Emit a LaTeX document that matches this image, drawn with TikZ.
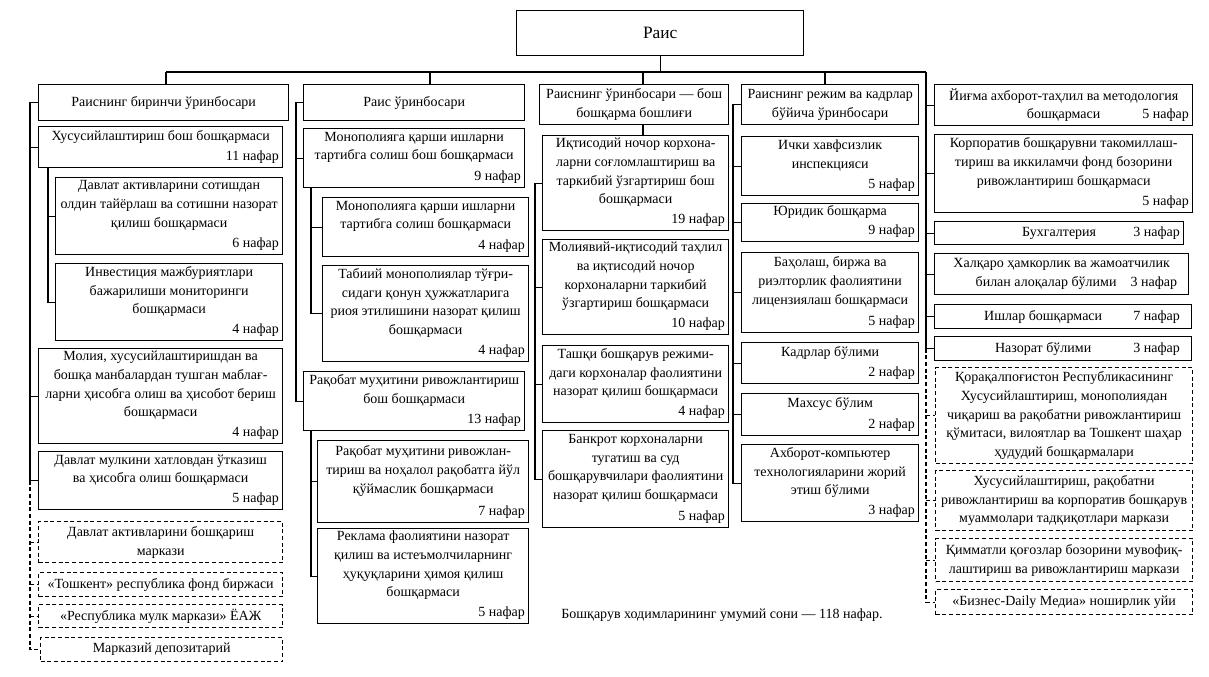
\documentclass[tikz,border=0pt]{standalone}
\usepackage{fontspec}
\setmainfont{Liberation Serif}
\begin{document}
\begin{tikzpicture}[x=.75pt,y=-.75pt,line width=.8pt,font=\fontsize{10.5pt}{14pt}\selectfont,
  box/.style={draw,line width=1pt,anchor=north west,align=center,inner sep=1pt},
  dbox/.style={box,dash pattern=on 3pt off 2pt},
  wh/.style 2 args={minimum width=#1*.75pt,minimum height=#2*.75pt},
  cnt/.style={anchor=south east,inner xsep=3pt,inner ysep=3pt}]
\useasboundingbox (0,0) rectangle (1209,676);
\node[box,wh={287}{45},font=\fontsize{13pt}{15pt}\selectfont] (t) at (516,10) {Раис};
\coordinate (mL) at (166,72);
\coordinate (mR) at (926,72);
\coordinate (j2) at (430,72);
\coordinate (j3) at (643,72);
\coordinate (j4) at (825,72);
% first deputy
\node[box,wh={250}{36}] (h1) at (38,84) {Раиснинг биринчи ўринбосари};
\node[box,wh={244}{41}] (b1) at (38,126) {Хусусийлаштириш бош бошқармаси\\ \strut};
\node[cnt] (b1n) at (b1.south east) {11 нафар};
\node[box,wh={227}{77}] (a1) at (55,177) {Давлат активларини сотишдан\\олдин тайёрлаш ва сотишни назорат\\қилиш бошқармаси\\ \strut};
\node[cnt] (a1n) at (a1.south east) {6 нафар};
\node[box,wh={227}{77}] (a2) at (55,263) {Инвестиция мажбуриятлари\\бажарилиши мониторинги\\бошқармаси\\ \strut};
\node[cnt] (a2n) at (a2.south east) {4 нафар};
\node[box,wh={244}{95}] (b2) at (38,348) {Молия, хусусийлаштиришдан ва\\бошқа манбалардан тушган маблағ-\\ларни ҳисобга олиш ва ҳисобот бериш\\бошқармаси\\ \strut};
\node[cnt] (b2n) at (b2.south east) {4 нафар};
\node[box,wh={244}{58}] (b3) at (38,451) {Давлат мулкини хатловдан ўтказиш\\ва ҳисобга олиш бошқармаси\\ \strut};
\node[cnt] (b3n) at (b3.south east) {5 нафар};
\node[dbox,wh={244}{41}] (d1) at (38,521) {Давлат активларини бошқариш\\маркази};
\node[dbox,wh={244}{24}] (d2) at (38,572) {«Тошкент» республика фонд биржаси};
\node[dbox,wh={244}{23}] (d3) at (38,604) {«Республика мулк маркази» ЁАЖ};
\node[dbox,wh={242}{24}] (d4) at (40,637) {Марказий депозитарий};
% deputy
\node[box,wh={221}{36}] (h2) at (303,84) {Раис ўринбосари};
\node[box,wh={221}{59}] (p1) at (303,128) {Монополияга қарши ишларни\\тартибга солиш бош бошқармаси\\ \strut};
\node[cnt] (p1n) at (p1.south east) {9 нафар};
\node[box,wh={206}{59}] (q1) at (322,197) {Монополияга қарши ишларни\\тартибга солиш бошқармаси\\ \strut};
\node[cnt] (q1n) at (q1.south east) {4 нафар};
\node[box,wh={206}{96}] (q2) at (322,265) {Табиий монополиялар тўғри-\\сидаги қонун ҳужжатларига\\риоя этилишини назорат қилиш\\бошқармаси\\ \strut};
\node[cnt] (q2n) at (q2.south east) {4 нафар};
\node[box,wh={221}{59}] (p2) at (303,371) {Рақобат муҳитини ривожлантириш\\бош бошқармаси\\ \strut};
\node[cnt] (p2n) at (p2.south east) {13 нафар};
\node[box,wh={211}{82}] (s1) at (317,440) {Рақобат муҳитини ривожлан-\\тириш ва ноҳалол рақобатга йўл\\қўймаслик бошқармаси\\ \strut};
\node[cnt] (s1n) at (s1.south east) {7 нафар};
\node[box,wh={211}{95}] (s2) at (317,528) {Реклама фаолиятини назорат\\қилиш ва истеъмолчиларнинг\\ҳуқуқларини ҳимоя қилиш\\бошқармаси\\ \strut};
\node[cnt] (s2n) at (s2.south east) {5 нафар};
% deputy -- head of main department
\node[box,wh={189}{40}] (h3) at (539,84) {Раиснинг ўринбосари — бош\\бошқарма бошлиғи};
\node[box,wh={186}{95}] (c1) at (542,135) {Иқтисодий ночор корхона-\\ларни соғломлаштириш ва\\таркибий ўзгартириш бош\\бошқармаси\\ \strut};
\node[cnt] (c1n) at (c1.south east) {19 нафар};
\node[box,wh={186}{95}] (c2) at (542,239) {Молиявий-иқтисодий таҳлил\\ва иқтисодий ночор\\корхоналарни таркибий\\ўзгартириш бошқармаси\\ \strut};
\node[cnt] (c2n) at (c2.south east) {10 нафар};
\node[box,wh={186}{77}] (c3) at (542,345) {Ташқи бошқарув режими-\\даги корхоналар фаолиятини\\назорат қилиш бошқармаси\\ \strut};
\node[cnt] (c3n) at (c3.south east) {4 нафар};
\node[box,wh={186}{97}] (c4) at (542,430) {Банкрот корхоналарни\\тугатиш ва суд\\бошқарувчилари фаолиятини\\назорат қилиш бошқармаси\\ \strut};
\node[cnt] (c4n) at (c4.south east) {5 нафар};
% regime and personnel
\node[box,wh={177}{40}] (h4) at (741,84) {Раиснинг режим ва кадрлар\\бўйича ўринбосари};
\node[box,wh={177}{59}] (r1) at (741,136) {Ички хавфсизлик\\инспекцияси\\ \strut};
\node[cnt] (r1n) at (r1.south east) {5 нафар};
\node[box,wh={177}{38}] (r2) at (741,203) {Юридик бошқарма\\ \strut};
\node[cnt] (r2n) at (r2.south east) {9 нафар};
\node[box,wh={177}{80}] (r3) at (741,252) {Баҳолаш, биржа ва\\риэлторлик фаолиятини\\лицензиялаш бошқармаси\\ \strut};
\node[cnt] (r3n) at (r3.south east) {5 нафар};
\node[box,wh={177}{41}] (r4) at (741,342) {Кадрлар бўлими\\ \strut};
\node[cnt] (r4n) at (r4.south east) {2 нафар};
\node[box,wh={177}{42}] (r5) at (741,393) {Махсус бўлим\\ \strut};
\node[cnt] (r5n) at (r5.south east) {2 нафар};
\node[box,wh={177}{77}] (r6) at (741,444) {Ахборот-компьютер\\технологияларини жорий\\этиш бўлими\\ \strut};
\node[cnt] (r6n) at (r6.south east) {3 нафар};
% directly under the chairman
\node[box,wh={258}{41}] (e1) at (934,84) {Йиғма ахборот-таҳлил ва методология\\бошқармаси};
\node[cnt] (e1n) at (e1.south east) {5 нафар};
\node[box,wh={258}{78}] (e2) at (934,134) {Корпоратив бошқарувни такомиллаш-\\тириш ва иккиламчи фонд бозорини\\ривожлантириш бошқармаси\\ \strut};
\node[cnt] (e2n) at (e2.south east) {5 нафар};
\node[box,wh={249}{23}] (e3) at (934,221) {Бухгалтерия};
\node[cnt,anchor=east] (e3n) at (e3.east) {3 нафар};
\node[box,wh={254}{41}] (e4) at (934,253) {Халқаро ҳамкорлик ва жамоатчилик\\\hspace*{22pt}билан алоқалар бўлими\quad 3 нафар};
\node[box,wh={257}{24}] (e5) at (934,304) {Ишлар бошқармаси\hspace{30pt}};
\node[cnt,anchor=east] (e5n) at ([xshift=-6]e5.east) {7 нафар};
\node[box,wh={257}{24}] (e6) at (934,336) {Назорат бўлими\hspace{30pt}};
\node[cnt,anchor=east] (e6n) at ([xshift=-6]e6.east) {3 нафар};
\node[dbox,wh={257}{96}] (f1) at (935,367) {Қорақалпоғистон Республикасининг\\Хусусийлаштириш, монополиядан\\чиқариш ва рақобатни ривожлантириш\\қўмитаси, вилоятлар ва Тошкент шаҳар\\ҳудудий бошқармалари};
\node[dbox,wh={257}{60}] (f2) at (935,470) {Хусусийлаштириш, рақобатни\\ривожлантириш ва корпоратив бошқарув\\муаммолари тадқиқотлари маркази};
\node[dbox,wh={257}{43}] (f3) at (935,538) {Қимматли қоғозлар бозорини мувофиқ-\\лаштириш ва ривожлантириш маркази};
\node[dbox,wh={257}{25}] (f4) at (935,589) {«Бизнес-Daily Медиа» ноширлик уйи};
\node (tot) at (722,615) {Бошқарув ходимларининг умумий сони — 118 нафар.};
% top level lines
\draw (t.south) -- (t.south |- mL);
\draw (mL) -- (mR);
\draw (mL) -- (mL |- h1.north);
\draw (j2) -- (j2 |- h2.north);
\draw (j3) -- (j3 |- h3.north);
\draw (j3 |- h3.south) -- (j3 |- c1.north);
\draw (j4) -- (j4 |- h4.north);
% column buses
\coordinate (k1) at (30,0);
\coordinate (k1a) at (48,0);
\draw (h1.west) -| (k1 |- b3.west) -- (b3.west);
\draw (k1 |- b1.west) -- (b1.west) (k1 |- b2.west) -- (b2.west);
\draw (k1a |- b1.south) |- (a2.west);
\draw (k1a |- a1.west) -- (a1.west);
\draw[dash pattern=on 3pt off 2pt] (k1 |- b3.west) |- (d4.west);
\draw[dash pattern=on 3pt off 2pt] (k1 |- d1.west) -- (d1.west) (k1 |- d2.west) -- (d2.west) (k1 |- d3.west) -- (d3.west);
\coordinate (k2) at (296,0);
\coordinate (k2a) at (311,0);
\draw (h2.west) -| (k2 |- p2.west) -- (p2.west);
\draw (k2 |- p1.west) -- (p1.west);
\draw (k2a |- p1.south) |- (q2.west);
\draw (k2a |- q1.west) -- (q1.west);
\draw (k2a |- p2.south) |- (s2.west);
\draw (k2a |- s1.west) -- (s1.west);
\coordinate (k3) at (535,0);
\draw (c1.west) -| (k3 |- c4.west) -- (c4.west);
\draw (k3 |- c2.west) -- (c2.west) (k3 |- c3.west) -- (c3.west);
\coordinate (k4) at (733,0);
\draw (h4.west) -| (k4 |- r6.west) -- (r6.west);
\draw (k4 |- r1.west) -- (r1.west) (k4 |- r2.west) -- (r2.west) (k4 |- r3.west) -- (r3.west);
\draw (k4 |- r4.west) -- (r4.west) (k4 |- r5.west) -- (r5.west);
\draw (mR) |- (e6.west);
\draw (mR |- e1.west) -- (e1.west) (mR |- e2.west) -- (e2.west) (mR |- e3.west) -- (e3.west);
\draw (mR |- e4.west) -- (e4.west) (mR |- e5.west) -- (e5.west);
\draw[dash pattern=on 3pt off 2pt] (mR |- e6.west) |- (f4.west);
\draw[dash pattern=on 3pt off 2pt] (mR |- f1.west) -- (f1.west) (mR |- f2.west) -- (f2.west) (mR |- f3.west) -- (f3.west);
\end{tikzpicture}
\end{document}
